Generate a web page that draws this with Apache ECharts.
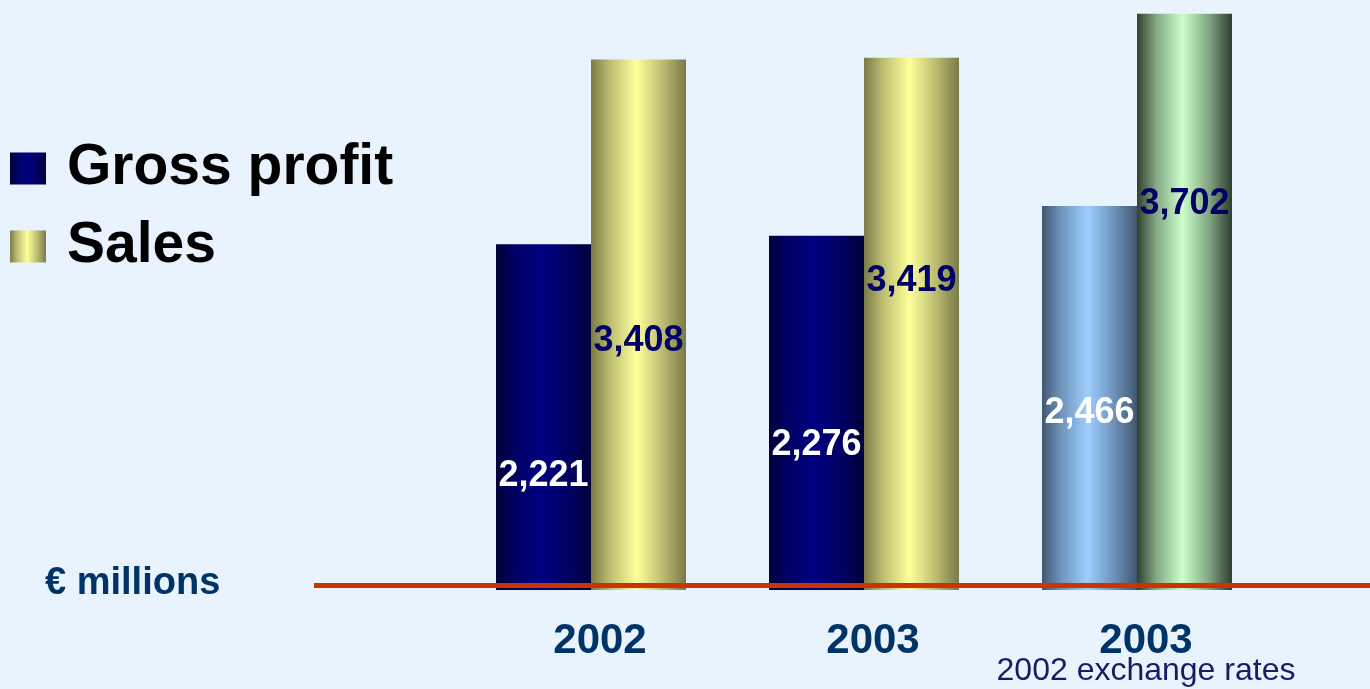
<!DOCTYPE html>
<html>
<head>
<meta charset="utf-8">
<script src="https://cdn.jsdelivr.net/npm/echarts@6/dist/echarts.min.js"></script>
<style>
html, body { margin: 0; padding: 0; background: #e9f3fd; }
#main { width: 1370px; height: 689px; }
</style>
</head>
<body>
<div id="main"></div>
<script>
// 数据
var categories = ['2002', '2003', '2003'];
var grossProfit = [2221, 2276, 2466];
var sales = [3408, 3419, 3702];
var subCaption = ['', '', '2002 exchange rates'];
var unitText = '€ millions';

// 标签位置（样式）
var gpLabelY = ['67%', '59%', '54%'];
var salesLabelY = ['53%', '42%', '33%'];

// 圆柱渐变
function cylinder(edge, mid, light) {
	return new echarts.graphic.LinearGradient(0, 0, 1, 0, [
		{ offset : 0, color : edge },
		{ offset : 0.2, color : mid },
		{ offset : 0.48, color : light },
		{ offset : 0.75, color : mid },
		{ offset : 1, color : edge }
	]);
}

var navy = cylinder('#00003a', '#000064', '#000082');
var yellow = cylinder('#7a7a48', '#bdbd72', '#ffff9c');
var blue = cylinder('#415770', '#6f94bb', '#9dcdff');
var green = cylinder('#2f3f2f', '#84a884', '#ccffcc');

function fmt(p) {
	return p.value.toLocaleString('en-US');
}

function buildData(values, labelY, lastColor) {
	return values.map(function(v, i) {
		var item = {
			value : v,
			label : { position : [ '50%', labelY[i] ] }
		};
		if (i === values.length - 1) {
			item.itemStyle = { color : lastColor };
		}
		return item;
	});
}

var chart = echarts.init(document.getElementById('main'));
var option = {
	backgroundColor : '#e9f3fd',
	animation : false,
	title : {
		text : unitText,
		left : 45,
		top : 565,
		padding : 0,
		textStyle : {
			fontFamily : 'Liberation Sans',
			fontWeight : 'bold',
			fontSize : 38,
			lineHeight : 38,
			color : '#003366'
		}
	},
	legend : {
		orient : 'vertical',
		left : 10,
		top : 140,
		padding : 0,
		itemWidth : 36,
		itemHeight : 32,
		itemGap : 21,
		icon : 'rect',
		textStyle : {
			fontFamily : 'Liberation Sans',
			fontWeight : 'bold',
			fontSize : 57,
			lineHeight : 53,
			color : '#000',
			padding : [ 0, 0, 0, 16 ]
		},
		data : [ 'Gross profit', 'Sales' ]
	},
	grid : {
		left : 454.5,
		right : 96.5,
		top : 0,
		bottom : 99
	},
	xAxis : {
		type : 'category',
		data : categories,
		axisLine : { show : false },
		axisTick : { show : false },
		axisLabel : {
			margin : 33,
			verticalAlign : 'top',
			padding : [ 0, 0, 0, 18 ],
			formatter : function(val, idx) {
				var s = '{y|' + val + '}';
				if (subCaption[idx]) {
					s += '\n{sub|' + subCaption[idx] + '}';
				}
				return s;
			},
			rich : {
				y : {
					fontFamily : 'Liberation Sans',
					fontWeight : 'bold',
					fontSize : 42,
					lineHeight : 37,
					color : '#003366'
				},
				sub : {
					fontFamily : 'Liberation Sans',
					fontSize : 32,
					lineHeight : 22,
					color : '#1a1a66'
				}
			}
		}
	},
	yAxis : {
		type : 'value',
		min : 0,
		max : 3790,
		show : false,
		splitLine : { show : false }
	},
	graphic : [ {
		type : 'line',
		z : 100,
		shape : { x1 : 314, y1 : 585.5, x2 : 1370, y2 : 585.5 },
		style : { stroke : '#cc3300', lineWidth : 5 }
	} ],
	series : [ {
		name : 'Gross profit',
		type : 'bar',
		barWidth : 95,
		barGap : '0%',
		itemStyle : { color : navy },
		label : {
			show : true,
			align : 'center',
			verticalAlign : 'middle',
			formatter : fmt,
			fontFamily : 'Liberation Sans',
			fontWeight : 'bold',
			fontSize : 36,
			color : '#ffffff'
		},
		data : buildData(grossProfit, gpLabelY, blue)
	}, {
		name : 'Sales',
		type : 'bar',
		barWidth : 95,
		barGap : '0%',
		itemStyle : { color : yellow },
		label : {
			show : true,
			align : 'center',
			verticalAlign : 'middle',
			formatter : fmt,
			fontFamily : 'Liberation Sans',
			fontWeight : 'bold',
			fontSize : 36,
			color : '#000066'
		},
		data : buildData(sales, salesLabelY, green)
	} ]
};
chart.setOption(option);
</script>
</body>
</html>
